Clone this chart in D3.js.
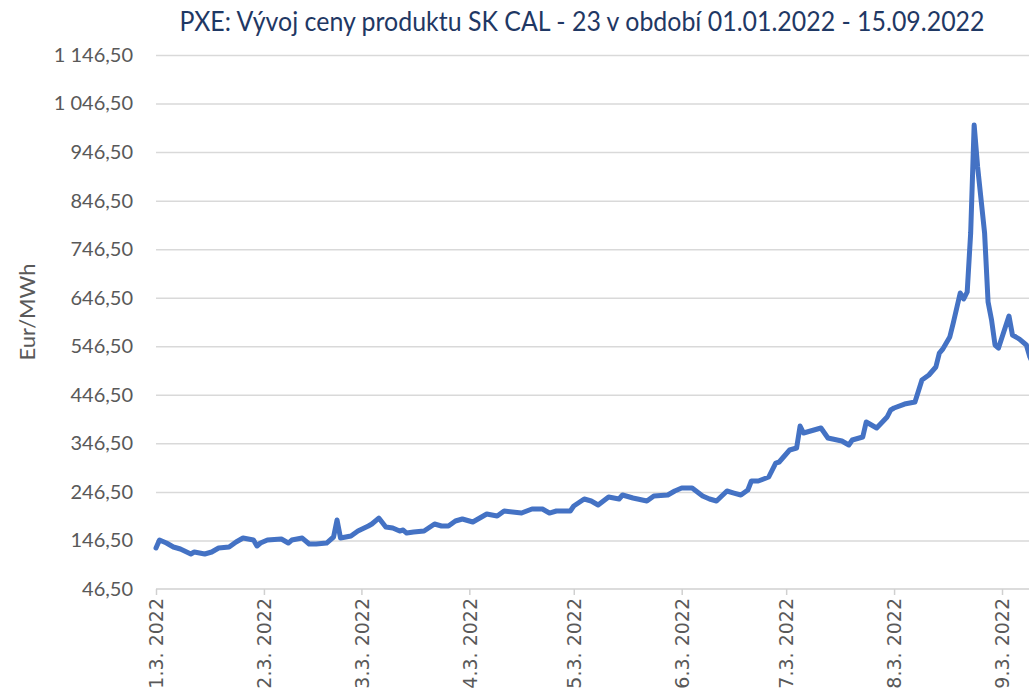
<!DOCTYPE html>
<meta charset="utf-8">
<head>
    <title>PXE SK CAL-23</title>
    <script src="https://cdn.jsdelivr.net/npm/d3@7/dist/d3.min.js"></script>
    <style>
        body { margin: 0; background: #fff; }
        svg { display: block; }
        .grid line { stroke: #d9d9d9; stroke-width: 1.5; }
        .ylab text { font-family: Lato, sans-serif; font-size: 20px; fill: #595959; }
        .xaxis text { font-family: "DejaVu Sans", Verdana, sans-serif; font-size: 19px; fill: #595959; }
        .xaxis line, .xaxis path { stroke: #d0d0d0; stroke-width: 1.5; }
    </style>
</head>
<body>
<div id="chart"></div>
<script>
    // price of SK CAL-23
    var dates = [
        "2022-01-01","2022-01-02","2022-01-04","2022-01-06","2022-01-08","2022-01-11","2022-01-12","2022-01-15",
        "2022-01-17","2022-01-19","2022-01-22","2022-01-24","2022-01-26","2022-01-29","2022-01-30","2022-01-31",
        "2022-02-02","2022-02-06","2022-02-08","2022-02-09","2022-02-12","2022-02-14","2022-02-16","2022-02-19",
        "2022-02-21","2022-02-22","2022-02-23","2022-02-26","2022-02-28","2022-03-03","2022-03-04","2022-03-06",
        "2022-03-08","2022-03-10","2022-03-12","2022-03-13","2022-03-14","2022-03-16","2022-03-19","2022-03-22",
        "2022-03-24","2022-03-26","2022-03-28","2022-03-30","2022-04-02","2022-04-06","2022-04-09","2022-04-11",
        "2022-04-16","2022-04-19","2022-04-22","2022-04-24","2022-04-26","2022-04-30","2022-05-01","2022-05-04",
        "2022-05-06","2022-05-08","2022-05-11","2022-05-14","2022-05-15","2022-05-18","2022-05-22","2022-05-24",
        "2022-05-28","2022-05-30","2022-06-01","2022-06-04","2022-06-07","2022-06-09","2022-06-11","2022-06-14",
        "2022-06-16","2022-06-18","2022-06-20","2022-06-21","2022-06-23","2022-06-26","2022-06-28","2022-06-29",
        "2022-07-02","2022-07-04","2022-07-05","2022-07-06","2022-07-11","2022-07-13","2022-07-17","2022-07-19",
        "2022-07-20","2022-07-23","2022-07-24","2022-07-27","2022-07-30","2022-07-31","2022-08-01","2022-08-04",
        "2022-08-07","2022-08-09","2022-08-11","2022-08-13","2022-08-14","2022-08-15","2022-08-17","2022-08-18",
        "2022-08-20","2022-08-21","2022-08-22","2022-08-23","2022-08-24","2022-08-25","2022-08-27","2022-08-28",
        "2022-08-29","2022-08-30","2022-08-31","2022-09-03","2022-09-04","2022-09-06","2022-09-08","2022-09-09",
        "2022-09-11"
    ];
    var prices = [
        131.0, 147.4, 141.2, 133.0, 128.9, 118.6, 122.7, 118.6,
        122.7, 131.0, 133.0, 143.3, 151.5, 147.4, 135.1, 141.2,
        147.4, 149.5, 141.2, 147.4, 151.5, 139.2, 139.2, 141.2,
        153.6, 188.6, 151.5, 155.7, 166.0, 176.3, 180.4, 192.7,
        174.2, 172.1, 166.0, 168.0, 161.8, 163.9, 166.0, 180.4,
        176.3, 176.3, 186.6, 190.7, 184.5, 201.0, 196.9, 207.2,
        203.0, 211.3, 211.3, 203.0, 207.2, 207.2, 217.5, 231.9,
        227.8, 219.5, 236.0, 231.9, 240.1, 233.9, 227.8, 238.1,
        240.1, 248.4, 254.5, 254.5, 238.1, 231.9, 227.8, 248.4,
        244.2, 240.1, 250.4, 269.0, 269.0, 277.2, 306.0, 308.1,
        332.8, 336.9, 382.2, 367.8, 378.1, 357.5, 351.3, 343.1,
        353.4, 359.6, 390.5, 378.1, 400.8, 415.2, 419.3, 427.5,
        431.7, 477.0, 487.3, 503.8, 532.6, 540.9, 565.6, 594.4,
        656.2, 643.9, 658.3, 779.8, 1002.2, 915.7, 779.8, 637.6,
        600.6, 549.1, 542.9, 608.8, 569.7, 561.4, 549.1, 524.4,
        495.0
    ];
    var yTicks = [46.5, 146.5, 246.5, 346.5, 446.5, 546.5, 646.5, 746.5, 846.5, 946.5, 1046.5, 1146.5];
    var xTickDates = ["2022-01-01","2022-02-01","2022-03-01","2022-04-01","2022-05-01",
                      "2022-06-01","2022-07-01","2022-08-01","2022-09-01"];
    var xTickLabels = ["1.3. 2022","2.3. 2022","3.3. 2022","4.3. 2022","5.3. 2022",
                       "6.3. 2022","7.3. 2022","8.3. 2022","9.3. 2022"];
    var title = "PXE: Vývoj ceny produktu SK CAL - 23 v období 01.01.2022 - 15.09.2022";

    var width = 1029, height = 690;
    var plotLeft = 156, plotTop = 55, plotBottom = 589;

    var parse = d3.timeParse("%Y-%m-%d");
    var data = dates.map(function(d, i) { return { date: parse(d), v: prices[i] }; });

    var svg = d3.select("#chart").append("svg")
        .attr("width", width)
        .attr("height", height);

    // one day ~ 3.48 px, so 15.9. lands past the right edge
    var x = d3.scaleTime()
        .domain([parse("2022-01-01"), parse("2022-09-15")])
        .range([plotLeft, plotLeft + 257 * 3.4815]);

    var y = d3.scaleLinear()
        .domain([46.5, 1146.5])
        .range([plotBottom, plotTop]);

    var loc = d3.formatLocale({ decimal: ",", thousands: "\u00a0", grouping: [3], currency: ["", ""] });
    var fmt = loc.format(",.2f");

    // gridlines
    svg.append("g")
        .attr("class", "grid")
        .attr("transform", "translate(" + plotLeft + ",0)")
        .call(d3.axisRight(y).tickValues(yTicks.slice(1)).tickSize(width).tickFormat(""))
        .call(function(g) { g.select(".domain").remove(); });

    // y labels
    svg.append("g")
        .attr("class", "ylab")
        .attr("transform", "translate(" + (plotLeft - 23) + ",0)")
        .call(d3.axisLeft(y).tickValues(yTicks).tickSize(0).tickPadding(0).tickFormat(fmt))
        .call(function(g) { g.select(".domain").remove(); });

    // x axis
    var xAxis = svg.append("g")
        .attr("class", "xaxis")
        .attr("transform", "translate(0," + plotBottom + ")")
        .call(d3.axisBottom(x)
            .tickValues(xTickDates.map(parse))
            .tickSize(6)
            .tickSizeOuter(0)
            .tickFormat(function(d, i) { return xTickLabels[i]; }));
    xAxis.select(".domain").attr("d", "M" + plotLeft + ",0H" + (width + 30));
    xAxis.selectAll("text")
        .attr("x", -9)
        .attr("y", 0)
        .attr("dy", "0.36em")
        .attr("transform", "rotate(-90)")
        .style("text-anchor", "end");

    // price line
    var line = d3.line()
        .x(function(d) { return x(d.date); })
        .y(function(d) { return y(d.v); });

    svg.append("path")
        .datum(data)
        .attr("d", line)
        .attr("fill", "none")
        .attr("stroke", "#4472c4")
        .attr("stroke-width", 5)
        .attr("stroke-linejoin", "round")
        .attr("stroke-linecap", "round");

    // title
    svg.append("text")
        .attr("x", 582)
        .attr("y", 31)
        .attr("text-anchor", "middle")
        .attr("textLength", 805)
        .attr("lengthAdjust", "spacingAndGlyphs")
        .style("font-family", "Lato, sans-serif")
        .style("font-size", "26px")
        .style("fill", "#1f3864")
        .text(title);

    // y axis title
    svg.append("text")
        .attr("transform", "translate(35,312) rotate(-90)")
        .attr("text-anchor", "middle")
        .style("font-family", "Lato, sans-serif")
        .style("font-size", "22px")
        .style("fill", "#595959")
        .text("Eur/MWh");
</script>
</body>
</html>
